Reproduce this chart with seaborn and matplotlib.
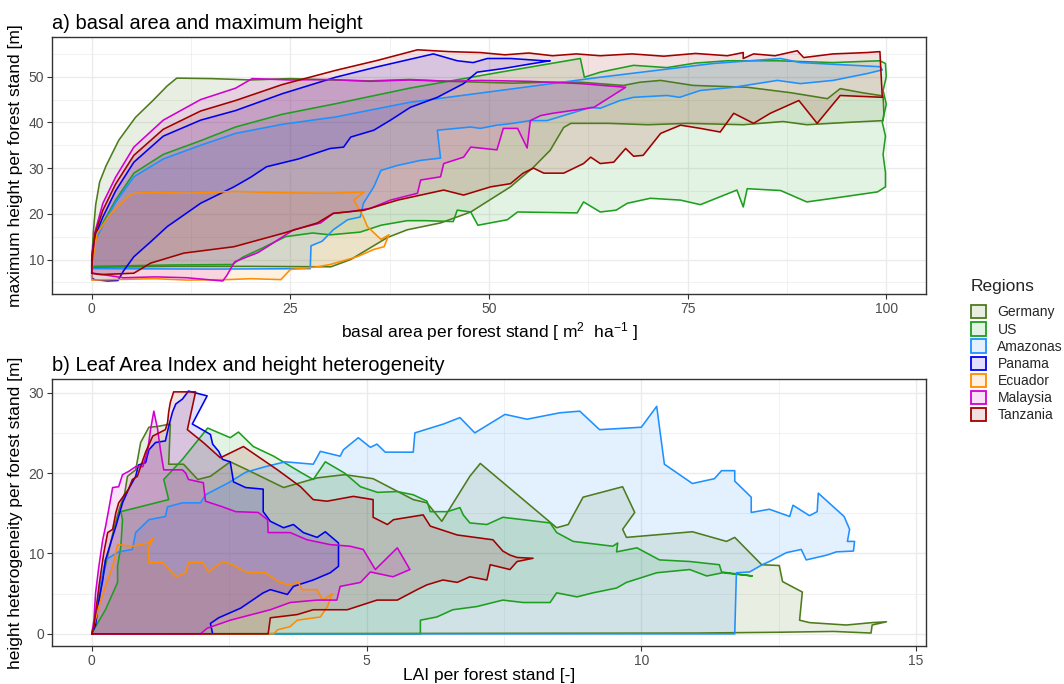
import numpy as np
import pandas as pd
import matplotlib
matplotlib.use("Agg")
import matplotlib.pyplot as plt
from matplotlib.patches import Patch
import seaborn as sns

regions = ["Germany", "US", "Amazonas", "Panama", "Ecuador", "Malaysia", "Tanzania"]
colors = ["#4E7B1C", "#1E9E1E", "#1E90FF", "#0000F0", "#FF8C00", "#D000D0", "#A00000"]

# ---------------- panel a: basal area (x) vs maximum height (y) ----------------
germany_a = [(0, 8.5), (0.05, 11), (0.2, 16), (0.5, 22), (1.0, 27), (1.8, 30.5), (3.4, 36.1), (5.5, 41.1),
             (7.7, 44.8), (9.5, 48), (10.7, 49.7), (15, 49.6), (20, 49.3), (25, 49.6), (30, 49.3), (35, 49.1),
             (40, 49.4), (45, 49.0), (48.9, 48.8), (53, 48.6), (57.3, 48.8), (61.5, 48.8), (66.9, 48.1),
             (69, 48.8), (71.6, 49.2), (75.7, 48.1), (82.5, 47.7), (88, 46.5), (92.6, 45.2), (94.2, 47.4),
             (97, 46.5), (99.6, 45.8), (99.7, 42), (99.6, 40.4), (95, 40.0), (90, 39.5), (87, 40.2), (82, 39.5),
             (75, 39.8), (70, 39.5), (65, 39.8), (60.3, 39.8), (59.4, 38.9), (57.7, 33.9), (55.6, 30.2),
             (52.7, 25.9), (47.7, 20.4), (43.9, 18.0), (39.7, 16.5), (37.2, 14.8), (32.6, 10.0), (30.1, 8.4),
             (20, 8.5), (10, 8.5), (0, 8.3)]
us_a = [(0, 8.5), (0.1, 11), (0.4, 14.5), (1.4, 18), (3, 23), (5.3, 28.9), (9, 33), (13.7, 36), (18.1, 39),
        (24, 41.8), (30.7, 44.1), (40, 47.5), (51.4, 51), (61.5, 54), (62, 49.9), (64, 51), (68.2, 52.5),
        (72.4, 52), (76, 53), (80, 53.5), (86.3, 53.5), (93.3, 53.1), (99.2, 53.5), (99.9, 52.9), (100, 50),
        (99.6, 47), (100, 44), (99.5, 40), (99.9, 37), (99.6, 33), (99.9, 29), (99.9, 25.9), (98.9, 24.8),
        (93.3, 23.4), (90, 22.6), (86.7, 25.1), (82.5, 25.5), (82, 21.5), (81.2, 25.2), (76.6, 22), (74.1, 23),
        (70.3, 23.4), (67.4, 22.3), (66, 20.8), (64, 20.4), (61.9, 22.6), (61.1, 20.2), (53.6, 20.4),
        (52.3, 18.7), (48.6, 17.5), (47.7, 20.4), (46, 20.8), (45.5, 18.3), (42, 18.5), (39.7, 18.5),
        (36.4, 17.5), (33.8, 16), (30, 15.4), (27.8, 15.8), (24.4, 15), (21, 12.1), (19, 10.5), (17.7, 8.9),
        (10, 8.8), (0, 8.5)]
amazonas_a = [(0, 8), (0.1, 10.5), (0.4, 14), (1.4, 17.5), (3, 22.5), (5.3, 28.1), (9, 32), (13.7, 35),
              (18.1, 37.6), (24, 39.6), (30.7, 41.2), (40, 44.4), (51.4, 47), (64, 49.9), (78.2, 52.9),
              (86.7, 54), (89.2, 53.1), (99.2, 52.2), (99.5, 51.5), (97.6, 50.7), (93.3, 49.2), (89.2, 48.5),
              (86.3, 49.2), (80.8, 47.7), (76.6, 47), (74, 45.5), (72.4, 45.9), (68.2, 45.5), (66.5, 44.8),
              (64, 43.1), (62.8, 43.3), (57.3, 40.4), (55.2, 40.4), (53, 39.8), (51, 39.4), (48.9, 38.7),
              (47.7, 39), (43.5, 38.3), (43.9, 32.2), (41.4, 31.7), (38.5, 30.6), (36.4, 29.5), (35.5, 25.9),
              (34.2, 22.3), (33.8, 19.3), (32.2, 18.7), (30.4, 16.5), (29, 14), (27.6, 13), (27.5, 8),
              (15, 7.9), (0, 8)]
panama_a = [(0, 10), (0.1, 12), (0.4, 15), (1.4, 19.3), (3, 25), (5.3, 31.3), (9, 37), (13.7, 40.5),
            (18.1, 42.6), (24, 46.3), (30.7, 49.9), (36, 52.2), (43, 55), (46, 53.5), (48, 53.1), (49.8, 54),
            (52.7, 54), (56.9, 53.5), (57.7, 53.5), (55.2, 52.8), (51.8, 51.8), (48.5, 51), (46.8, 48.5),
            (43.5, 45.5), (40.1, 43.3), (37.6, 40.5), (35.5, 38.3), (32.6, 36.8), (31.7, 34.6), (30, 34.3),
            (26, 32), (22, 30.3), (20, 28), (17.9, 25.9), (13.7, 22.3), (9.5, 17.2), (7.5, 14), (5.3, 10.6),
            (4, 7.5), (3.3, 5.4), (2, 5.3), (0.3, 5.6), (0, 6)]
ecuador_a = [(0, 7), (0.3, 12), (0.7, 15.8), (2.4, 20.1), (4.5, 23.7), (5.3, 24.5), (8, 24.7), (12, 24.5),
             (18, 24.9), (24, 24.6), (30, 24.5), (34.3, 24.8), (33, 23), (34.2, 19.3), (34.7, 17.2),
             (36.4, 14.4), (37.4, 15.4), (36.8, 12.8), (35.5, 12.2), (33.4, 10.6), (30, 8.9), (28.4, 8.4),
             (25, 7.8), (23.8, 5.6), (20, 5.8), (17.1, 5.6), (12, 5.5), (8, 5.8), (2.4, 5.6), (0, 5.5)]
malaysia_a = [(0, 7), (0.1, 11), (0.4, 16), (1.4, 22.3), (3, 28), (5.3, 34.6), (9, 40.5), (13.7, 45),
              (18.1, 47.5), (20.2, 49.6), (25, 49.3), (30, 49.4), (35, 49), (40, 49.3), (45, 49), (49, 49.2),
              (55, 49), (61.5, 48.5), (67.2, 47.7), (63.2, 43.3), (58, 42), (56.5, 41.5), (55.2, 40.4),
              (54.8, 34.4), (53.6, 38.7), (51.8, 38.7), (51, 34), (47.7, 34.6), (46.8, 32.4), (44.3, 31),
              (43.9, 28.1), (41.4, 27.4), (41, 24.5), (37.6, 23), (35.1, 21.2), (32.6, 20.5), (30.4, 20.1),
              (28.8, 18), (25.4, 16.5), (22.1, 12.8), (20.9, 11.5), (18, 9.5), (17, 6.5), (16.5, 5.3),
              (12, 6), (8, 6.2), (4, 6), (1, 6.8), (0, 7)]
tanzania_a = [(0, 7), (0.1, 11), (0.4, 15.5), (1.4, 20.8), (3, 26.5), (5.3, 32.8), (9, 38.5), (13.7, 42.5),
              (18.1, 44.8), (24, 48.3), (30.7, 51.4), (36, 53.6), (41, 55.9), (45, 55.5), (48.9, 55.3),
              (52, 54.8), (55, 55.2), (58, 54.6), (61, 55), (64, 54.6), (68, 55), (72, 54.5), (76, 55.1),
              (80, 54.6), (82, 55.3), (82, 54), (83.3, 55), (86, 54.6), (88.8, 55.7), (89.6, 54.2), (93.3, 55),
              (97.6, 55.3), (99.2, 55.5), (99.5, 45.5), (94.2, 45.9), (91.3, 39.8), (89, 44.8), (85.4, 42),
              (83.3, 39.8), (80.8, 42), (79.1, 37.9), (76.6, 38.7), (74.1, 39.4), (71.6, 37.6), (69.4, 32.8),
              (68.2, 32.6), (67.2, 34.3), (65.7, 31.3), (64, 31), (62.8, 32.4), (61.9, 31), (59.4, 28.9),
              (56.9, 28.9), (55.6, 30), (54.3, 28.9), (52.7, 26.6), (50.2, 25.9), (46.8, 24.1), (44.3, 25.2),
              (38.5, 23), (34.3, 20.8), (30.4, 20.1), (28.4, 18), (24.2, 15.8), (17.9, 12.8), (11.6, 11.4),
              (7.4, 9.2), (5.3, 7), (1.1, 6.7), (0, 7)]

# ---------------- panel b: LAI (x) vs height heterogeneity (y) ----------------
germany_b = [(0, 0), (0.04, 0.9), (0.13, 4), (0.2, 7), (0.3, 10), (0.4, 13), (0.5, 15.5), (0.6, 17.5),
             (0.65, 19.6), (0.8, 20.4), (0.89, 23.8), (1.04, 25.7), (1.2, 25.8), (1.43, 26.1), (1.4, 21.1),
             (1.67, 21.1), (1.93, 19.2), (2.16, 19.6), (2.52, 21.4), (2.83, 20.4), (3.49, 18.2), (4.1, 19.4),
             (4.6, 19.8), (5.12, 19.3), (5.85, 16.7), (6.1, 16.3), (6.37, 14), (6.88, 19.6), (7.07, 21.2),
             (8.46, 13.2), (8.67, 13.6), (8.94, 17), (9.66, 18.3), (9.88, 15.1), (9.66, 13), (9.73, 12),
             (10.93, 12.7), (11.55, 11.5), (11.7, 12), (12.19, 8.6), (12.51, 8.5), (12.57, 6.5), (12.93, 5.2),
             (12.88, 1.7), (13.06, 1.4), (13.73, 1.1), (14.2, 1.4), (14.46, 1.5), (14.2, 1.1), (14.18, 0.1),
             (13.5, 0.3), (12.5, 0.2), (11, 0.1), (0, 0)]
us_b = [(0, 0), (0.07, 0.9), (0.25, 3), (0.47, 6.4), (0.47, 8.4), (0.53, 10.9), (0.56, 14.2), (0.53, 15.2),
        (1.4, 16.7), (1.31, 19.2), (1.65, 21.7), (2.11, 25.6), (2.52, 24.4), (2.67, 25.1), (2.94, 23.3),
        (3.31, 22.1), (3.8, 20.1), (4.03, 19.2), (4.25, 21.4), (4.6, 20), (4.89, 18.3), (5.2, 17.6),
        (5.56, 17.7), (5.85, 17.3), (6.1, 16.5), (6.16, 15.2), (6.47, 15.2), (6.7, 15.7), (6.76, 14.8),
        (6.88, 13.8), (7.19, 13.6), (7.48, 14.5), (8.34, 13.8), (8.46, 12.6), (8.76, 11.5), (9.48, 10.9),
        (9.57, 11.3), (9.55, 10.2), (9.92, 10.7), (10.33, 9.2), (10.88, 9), (11.42, 8.6), (11.46, 7.7),
        (12.02, 7.2), (11.48, 7.6), (11.19, 7.2), (10.88, 8), (10.28, 7.6), (9.73, 6.4), (9.55, 5.7),
        (9.12, 5.1), (8.83, 4.6), (8.46, 5.1), (8.34, 3.9), (7.85, 3.9), (7.48, 4.2), (7.01, 3.4),
        (6.57, 3), (6.28, 2.1), (5.98, 1.7), (5.98, 0), (0, 0)]
amazonas_b = [(0, 0), (0.05, 1), (0.1, 3.5), (0.15, 6), (0.25, 9.2), (0.49, 10.2), (0.74, 10.5), (0.8, 12.6),
              (1.04, 14.2), (1.34, 14.6), (1.38, 15.8), (1.65, 16.3), (1.98, 16.3), (2.07, 17.3), (2.49, 18.8),
              (2.8, 20.1), (3.16, 20.8), (3.52, 21.4), (4.03, 21.1), (4.16, 22.7), (4.52, 22.1), (4.58, 22.9),
              (4.85, 24.4), (5.07, 23.2), (5.19, 23.6), (5.34, 22.6), (5.85, 22.6), (5.88, 25), (6.4, 26.1),
              (6.7, 26.9), (6.97, 25), (7.52, 27.3), (7.92, 26.7), (8.52, 27.5), (8.88, 27.7), (9.24, 25.4),
              (10, 25.7), (10.28, 28.3), (10.42, 21.1), (10.93, 18.7), (11.33, 19.3), (11.46, 20.3),
              (11.7, 20.3), (11.7, 19), (12, 17), (12, 15.1), (12.33, 15.5), (12.7, 14.6), (12.76, 16),
              (13.06, 14.7), (13.2, 15.2), (13.22, 17.5), (13.69, 14.6), (13.79, 13), (13.75, 11.5),
              (13.88, 11.5), (13.86, 10.3), (13.55, 10.2), (13.38, 9.8), (13, 9.2), (12.91, 10.5),
              (12.64, 10.1), (12.33, 9), (12.2, 8.6), (11.97, 7.7), (11.73, 7.6), (11.7, 0), (0, 0)]
panama_b = [(0, 0), (0.07, 1.1), (0.13, 4.2), (0.2, 6.7), (0.25, 9.2), (0.38, 12.1), (0.44, 13.4),
            (0.56, 16.3), (0.67, 18), (0.8, 19.6), (0.85, 21), (0.98, 21.3), (1.04, 22.9), (1.16, 23.8),
            (1.34, 24), (1.4, 25.8), (1.47, 27.6), (1.53, 28.6), (1.65, 29.2), (1.76, 30.2), (2.1, 29.6),
            (1.83, 26.1), (2.01, 25.4), (2.16, 24.8), (2.2, 23.6), (2.31, 22.7), (2.38, 21.7), (2.52, 21.4),
            (2.58, 18.9), (2.8, 18.2), (3.12, 18), (3.12, 15.2), (3.25, 14), (3.49, 13.2), (3.67, 13.6),
            (3.85, 12.6), (4.1, 12), (4.25, 12.7), (4.49, 11.3), (4.49, 8.4), (4.34, 7.6), (4.03, 6.7),
            (3.67, 5.9), (3.56, 4.9), (3.25, 5.5), (3.12, 5.1), (2.71, 3.2), (2.31, 2), (2.16, 1.3),
            (2.2, 0), (0, 0)]
ecuador_b = [(0, 0), (0.13, 3.4), (0.25, 5.9), (0.38, 8.4), (0.47, 11.1), (0.74, 10.9), (1.02, 11.3),
             (1.13, 12), (1.04, 10.9), (1.04, 8.9), (1.29, 8.9), (1.53, 7.1), (1.71, 7.6), (1.76, 8.9),
             (2.02, 8.9), (2.12, 7.7), (2.38, 9), (2.56, 8.6), (2.8, 7.7), (3.16, 7.6), (3.4, 6.5),
             (3.58, 6.1), (3.76, 6.4), (3.83, 5.5), (4.1, 5.5), (4.2, 4.2), (4.38, 5), (4.29, 3.4),
             (4.16, 2.1), (3.74, 1.7), (3.61, 0.9), (3.38, 0.5), (3.31, 0), (0, 0)]
malaysia_b = [(0, 0), (0.04, 1.7), (0.07, 5.1), (0.13, 8.4), (0.2, 11.7), (0.25, 13.3), (0.31, 15.5),
              (0.38, 18.2), (0.49, 18.3), (0.56, 19.8), (0.67, 20.2), (0.8, 20.8), (0.93, 20.8), (1.02, 22.9),
              (1.07, 25.4), (1.13, 27.7), (1.2, 25.4), (1.25, 22.9), (1.31, 20.4), (1.65, 20.4), (1.71, 20),
              (1.76, 19.2), (2.03, 18.8), (2.07, 16.5), (2.38, 15.8), (2.62, 15.2), (3.03, 15.1), (3.2, 14.2),
              (3.21, 12.6), (3.61, 12.6), (3.92, 11.7), (4.34, 11.1), (4.7, 10.9), (4.94, 10.5), (5.16, 8),
              (5.56, 10.7), (5.79, 8), (5.48, 7.1), (5.07, 7.7), (4.89, 6.4), (4.52, 5.9), (4.46, 4.2),
              (4.1, 4.2), (3.61, 3.9), (3.25, 3), (2.52, 1.7), (2.1, 0.7), (1.98, 0), (0, 0)]
tanzania_b = [(0, 0), (0.04, 0.9), (0.13, 5.9), (0.22, 10.1), (0.29, 12.6), (0.38, 13), (0.44, 15.1),
              (0.49, 16.3), (0.67, 18), (0.74, 19.2), (0.83, 19.6), (0.98, 22.6), (1.11, 24.6), (1.34, 25.4),
              (1.38, 26.3), (1.4, 27.6), (1.43, 28.8), (1.49, 30.1), (1.89, 30.1), (1.74, 25.4), (2.03, 23.8),
              (2.34, 21.9), (2.76, 23.3), (3.38, 20.4), (3.8, 18.3), (4.03, 16.7), (4.28, 16.5), (4.76, 17.1),
              (5.12, 16.7), (5.12, 14.5), (5.38, 13.6), (5.49, 14.2), (6.03, 14.8), (6.16, 13.4),
              (6.65, 12.3), (7.3, 11.7), (7.48, 10.3), (7.61, 9.8), (7.74, 9.5), (8.03, 9.4), (7.74, 9),
              (7.61, 8), (7.25, 8.6), (7.19, 6.7), (6.88, 7.1), (6.65, 6.4), (6.39, 6.7), (6.1, 6.1),
              (5.92, 5.5), (5.56, 4.2), (5.19, 4.2), (4.65, 3), (4.03, 3), (3.74, 2.4), (3.25, 2), (3.21, 0),
              (0, 0)]

panel_a = [germany_a, us_a, amazonas_a, panama_a, ecuador_a, malaysia_a, tanzania_a]
panel_b = [germany_b, us_b, amazonas_b, panama_b, ecuador_b, malaysia_b, tanzania_b]

titles = ["a) basal area and maximum height", "b) Leaf Area Index and height heterogeneity"]
xlabels = [r"basal area per forest stand [ m$^{2}$  ha$^{-1}$ ]", "LAI per forest stand [-]"]
ylabels = ["maximum height per forest stand [m]", "height heterogeneity per forest stand [m]"]
xticks = [[0, 25, 50, 75, 100], [0, 5, 10, 15]]
yticks = [[10, 20, 30, 40, 50], [0, 10, 20, 30]]
xminor = [[12.5, 37.5, 62.5, 87.5], [2.5, 7.5, 12.5]]
yminor = [[5, 15, 25, 35, 45, 55], [5, 15, 25]]
xlims = [(-5, 105), (-0.723, 15.18)]
ylims = [(2.45, 58.7), (-1.51, 31.7)]
legend_title = "Regions"

sns.set_theme(style="whitegrid")
plt.rcParams["font.family"] = ["Liberation Sans", "DejaVu Sans"]
plt.rcParams["mathtext.fontset"] = "custom"
plt.rcParams["mathtext.rm"] = "Liberation Sans"
plt.rcParams["mathtext.it"] = "Liberation Sans"

W, H = 1064, 684
fig = plt.figure(figsize=(W / 100, H / 100), dpi=100)
ax_a = fig.add_axes([52 / W, 1 - 294 / H, (926 - 52) / W, (294 - 37) / H])
ax_b = fig.add_axes([52 / W, 1 - 646 / H, (926 - 52) / W, (646 - 379) / H])

for k, (ax, polys) in enumerate([(ax_a, panel_a), (ax_b, panel_b)]):
    rows = []
    for name, col, poly in zip(regions, colors, polys):
        xs = [p[0] for p in poly]
        ys = [p[1] for p in poly]
        ax.fill(xs, ys, facecolor=col, alpha=0.12, edgecolor="none", zorder=2)
        closed = poly + [poly[0]]
        for i, (x, y) in enumerate(closed):
            rows.append({"x": x, "y": y, "region": name, "seq": i})
    df = pd.DataFrame(rows)
    sns.lineplot(data=df, x="x", y="y", hue="region", hue_order=regions, palette=colors,
                 units="region", estimator=None, sort=False, linewidth=1.15, legend=False,
                 ax=ax, zorder=3)
    ax.set_xlim(*xlims[k])
    ax.set_ylim(*ylims[k])
    ax.set_xticks(xticks[k])
    ax.set_yticks(yticks[k])
    ax.set_xticks(xminor[k], minor=True)
    ax.set_yticks(yminor[k], minor=True)
    ax.set_facecolor("white")
    ax.grid(which="major", color="#EBEBEB", linewidth=1.0)
    ax.grid(which="minor", color="#EBEBEB", linewidth=0.5)
    ax.set_axisbelow(True)
    for s in ax.spines.values():
        s.set_edgecolor("#333333")
        s.set_linewidth(1.0)
    ax.tick_params(which="major", length=3.5, width=0.8, color="#333333", labelsize=10,
                   labelcolor="#4D4D4D", pad=2, bottom=True, left=True)
    ax.tick_params(which="minor", length=0)
    ax.set_xlabel(xlabels[k], fontsize=12.5, color="black", labelpad=(3 if k == 0 else 0))
    ax.set_ylabel(ylabels[k], fontsize=12.5, color="black", labelpad=4)
    ax.set_title(titles[k], loc="left", fontsize=14.5, color="black", pad=6)

handles = [Patch(facecolor=matplotlib.colors.to_rgba(c, 0.12), edgecolor=c, linewidth=1.3, label=r)
           for r, c in zip(regions, colors)]
fig.text(971 / W, 1 - 286 / H, legend_title, fontsize=12.5, ha="left", va="center")
leg = fig.legend(handles=handles, loc="upper left", bbox_to_anchor=(971 / W, 1 - 305 / H),
                 frameon=False, fontsize=10, handlelength=1.1, handleheight=1.1, labelspacing=0.2,
                 handletextpad=0.8, borderaxespad=0, borderpad=0)

fig.savefig("out.png", dpi=100)
